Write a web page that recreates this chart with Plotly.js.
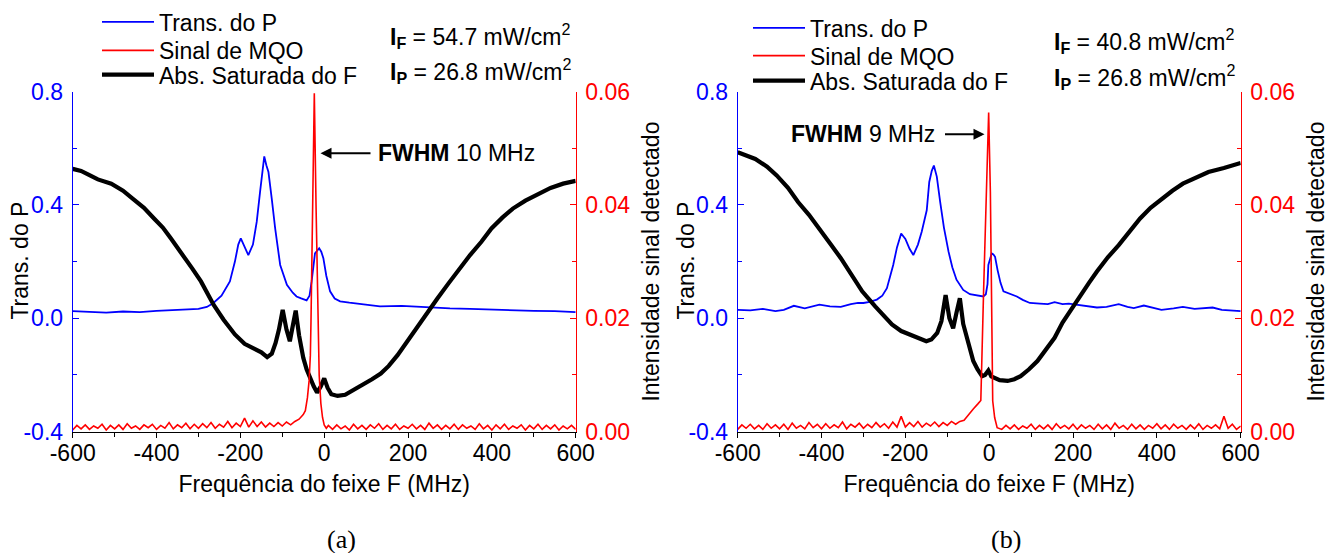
<!DOCTYPE html>
<html>
<head>
<meta charset="utf-8">
<script src="https://cdn.plot.ly/plotly-3.0.1.min.js"></script>
<style>html,body{margin:0;padding:0;background:#fff;}#chart{width:1340px;height:553px;}</style>
</head>
<body>
<div id="chart"></div>
<script>
// ---------------- Panel (a) data ----------------
const aBlueX = [-600,-560,-520,-480,-440,-400,-360,-330,-300,-280,-265,-245,-225,-213,-205,-199,-190,-181,-170,-161,-153,-148,-143,-138,-133,-125,-117,-105,-89,-75,-66,-55,-42,-35,-30,-22,-17,-12,-7,-2,5,14,25,38,60,93,133,185,245,300,348,400,450,500,550,575,600];
const aBlueY = [0.025,0.022,0.02,0.024,0.022,0.026,0.028,0.03,0.033,0.04,0.053,0.08,0.13,0.2,0.26,0.282,0.25,0.223,0.26,0.34,0.446,0.5,0.571,0.54,0.516,0.42,0.317,0.188,0.118,0.09,0.077,0.07,0.063,0.08,0.13,0.229,0.24,0.247,0.235,0.212,0.15,0.095,0.07,0.06,0.055,0.049,0.042,0.044,0.038,0.035,0.033,0.03,0.028,0.026,0.025,0.024,0.022];

const aBlackX = [-600,-580,-560,-540,-508,-480,-457,-430,-406,-385,-366,-340,-315,-294,-280,-264,-240,-213,-190,-162,-150,-136,-125,-116,-108,-99,-90,-82,-75,-68,-60,-50,-42,-34,-25,-17,-8,0,8,17,32,50,73,95,114,135,154,175,195,220,246,270,297,320,348,375,399,425,450,480,511,540,570,593,600];
const aBlackY = [0.527,0.52,0.505,0.49,0.475,0.45,0.422,0.39,0.352,0.32,0.282,0.23,0.176,0.13,0.09,0.048,-0.005,-0.057,-0.09,-0.11,-0.12,-0.137,-0.125,-0.087,-0.04,0.03,-0.04,-0.081,-0.03,0.027,-0.06,-0.139,-0.18,-0.21,-0.24,-0.262,-0.24,-0.212,-0.245,-0.268,-0.274,-0.27,-0.25,-0.235,-0.215,-0.195,-0.168,-0.13,-0.087,-0.035,0.019,0.07,0.124,0.17,0.223,0.27,0.317,0.355,0.387,0.415,0.44,0.46,0.475,0.481,0.485];

const aRedX = [
  -600,-590,-580,-570,-560,-550,-540,-530,-520,-510,
  -500,-490,-480,-470,-460,-450,-440,-430,-420,-410,
  -400,-390,-380,-370,-360,-350,-340,-330,-320,-310,
  -300,-290,-280,-270,-260,-250,-240,-230,-220,-210,
  -200,-190,-180,-170,-160,-150,-140,-130,-120,-110,
  -100,-90,-80,
  -70,-60,-50,-45,-40,-36,-33,-31.5,-27.5,-23.6,-19.5,-15.5,-12,-8,-4,0,5,
  10,20,30,40,50,60,70,80,90,100,
  110,120,130,140,150,160,170,180,190,200,
  210,220,230,240,250,260,270,280,290,300,
  310,320,330,340,350,360,370,380,390,400,
  410,420,430,440,450,460,470,480,490,500,
  510,520,530,540,550,560,570,580,590,600];
const aRedY = [
  0.0003,0.0011,0.0005,0.0012,0.0004,0.001,0.0006,0.0013,0.0003,0.0011,
  0.0005,0.0012,0.0004,0.0014,0.0006,0.001,0.0004,0.0012,0.0007,0.0013,
  0.0004,0.0011,0.0006,0.0016,0.0005,0.0012,0.0007,0.0015,0.0005,0.0013,
  0.0006,0.0014,0.0007,0.0016,0.0006,0.0013,0.0008,0.0018,0.0007,0.0015,
  0.0009,0.0024,0.0008,0.0019,0.0009,0.0017,0.0008,0.0015,0.0009,0.0016,
  0.001,0.0017,0.0012,
  0.0018,0.0022,0.003,0.0037,0.006,0.009,0.0135,0.0195,0.04,0.0597,0.04,0.0195,0.01,0.005,0.0025,0.0012,0.0006,
  0.0011,0.0004,0.0012,0.0005,0.001,0.0003,0.0013,0.0005,0.0011,0.0004,
  0.0012,0.0006,0.0014,0.0004,0.0011,0.0005,0.0013,0.0004,0.001,0.0006,
  0.0013,0.0005,0.0011,0.0004,0.0015,0.0006,0.0012,0.0004,0.0011,0.0005,
  0.0013,0.0004,0.0012,0.0006,0.001,0.0004,0.0014,0.0005,0.0011,0.0003,
  0.0012,0.0005,0.0013,0.0004,0.001,0.0006,0.0012,0.0003,0.0011,0.0005,
  0.0013,0.0004,0.0011,0.0005,0.0012,0.0003,0.001,0.0005,0.0011,0.0004];

// ---------------- Panel (b) data ----------------
const bBlueX = [-600,-570,-540,-510,-490,-466,-440,-405,-380,-354,-330,-313,-300,-285,-268,-255,-244,-235,-229,-220,-210,-200,-190,-181,-170,-161,-155,-149,-143,-137,-132,-125,-117,-108,-97,-88,-78,-62,-46,-30,-14,-8,-4,-2,2,6,10,14,20,27,34,50,66,80,97,121,140,156,175,190,207,230,257,280,309,330,345,369,390,411,440,462,490,510,533,555,575,600];
const bBlueY = [0.03,0.028,0.033,0.025,0.03,0.044,0.035,0.048,0.042,0.04,0.05,0.054,0.054,0.058,0.066,0.08,0.106,0.15,0.188,0.25,0.299,0.28,0.245,0.223,0.26,0.305,0.34,0.381,0.481,0.52,0.539,0.5,0.411,0.32,0.235,0.18,0.136,0.1,0.085,0.08,0.077,0.085,0.12,0.188,0.21,0.229,0.225,0.217,0.17,0.125,0.095,0.085,0.077,0.065,0.054,0.052,0.05,0.057,0.05,0.052,0.048,0.042,0.038,0.04,0.05,0.04,0.036,0.045,0.038,0.03,0.035,0.04,0.033,0.035,0.038,0.03,0.027,0.025];

const bBlackX = [-600,-580,-558,-530,-507,-480,-456,-430,-405,-380,-354,-333,-303,-272,-250,-232,-210,-191,-170,-150,-138,-124,-114,-104,-95,-86,-78,-70,-62,-53,-45,-38,-28,-17,-10,-2,5,13,25,44,60,75,95,115,135,156,175,197,218,238,257,283,309,335,360,385,411,437,462,492,523,560,595,600];
const bBlackY = [0.586,0.575,0.562,0.535,0.504,0.46,0.41,0.365,0.317,0.265,0.212,0.165,0.095,0.042,0.005,-0.022,-0.045,-0.057,-0.07,-0.081,-0.075,-0.052,-0.01,0.082,0.0,-0.035,0.02,0.071,-0.02,-0.069,-0.11,-0.151,-0.18,-0.204,-0.2,-0.184,-0.205,-0.21,-0.218,-0.221,-0.215,-0.204,-0.18,-0.151,-0.11,-0.069,-0.015,0.036,0.085,0.125,0.165,0.215,0.258,0.305,0.352,0.39,0.422,0.45,0.475,0.495,0.516,0.53,0.545,0.548];

const bRedX = [
  -600,-590,-580,-570,-560,-550,-540,-530,-520,-510,
  -500,-490,-480,-470,-460,-450,-440,-430,-420,-410,
  -400,-390,-380,-370,-360,-350,-340,-330,-320,-310,
  -300,-290,-280,-270,-260,-250,-240,-230,-220,-210,
  -200,-190,-180,-170,-160,-150,-140,-130,-120,-110,
  -100,-90,-80,
  -70,-60,-48,-38,-27,-20,-13.4,-7,-1.3,2.8,5,8.4,13,19,
  30,40,50,60,70,80,90,100,110,120,
  130,140,150,160,170,180,190,200,210,220,
  230,240,250,260,270,280,290,300,310,320,
  330,340,350,360,370,380,390,400,410,420,
  430,440,450,460,470,480,490,500,510,520,
  530,540,550,560,570,580,590,600];
const bRedY = [
  0.0004,0.0012,0.0006,0.0013,0.0005,0.0011,0.0004,0.0014,0.0006,0.0012,
  0.0005,0.0013,0.0004,0.0015,0.0006,0.0011,0.0005,0.0016,0.0007,0.0013,
  0.0005,0.0014,0.0006,0.0012,0.0007,0.0017,0.0005,0.0013,0.0008,0.0015,
  0.0006,0.0013,0.0007,0.0016,0.0008,0.0014,0.0006,0.0017,0.0008,0.0027,
  0.0008,0.0016,0.0009,0.0018,0.0008,0.0015,0.001,0.0017,0.0009,0.0016,
  0.0011,0.0018,0.0013,
  0.0018,0.002,0.0032,0.004,0.0049,0.0055,0.0247,0.0423,0.0563,0.0423,0.0247,0.0054,0.0025,0.0007,
  0.0004,0.0011,0.0005,0.0012,0.0004,0.001,0.0006,0.0013,0.0004,0.0011,
  0.0005,0.0012,0.0004,0.0014,0.0006,0.0011,0.0005,0.0013,0.0004,0.0012,
  0.0006,0.0011,0.0004,0.0013,0.0005,0.0012,0.0004,0.0015,0.0006,0.0011,
  0.0004,0.0013,0.0005,0.0012,0.0004,0.0011,0.0006,0.0014,0.0005,0.0012,
  0.0004,0.0013,0.0006,0.0011,0.0004,0.0012,0.0005,0.0014,0.0004,0.0011,
  0.0006,0.0012,0.0005,0.0027,0.0006,0.0013,0.0004,0.001];

// ---------------- Ticks ----------------
const xTickVals = [-600,-400,-200,0,200,400,600];
const xTickText = ["-600","-400","-200","0","200","400","600"];
const xMinorVals = [-500,-300,-100,100,300,500];
const yLeftTickVals = [-0.4,0,0.4,0.8];
const yLeftTickText = ["-0.4","0.0","0.4","0.8"];
const yLeftMinorVals = [-0.2,0.2,0.6];
const yRightTickVals = [0,0.02,0.04,0.06];
const yRightTickText = ["0.00","0.02","0.04","0.06"];
const yRightMinorVals = [0.01,0.03,0.05];

const seriesNames = ["Trans. do P","Sinal de MQO","Abs. Saturada do F"];
const leftTitle = "Trans. do P";
const rightTitle = "Intensidade sinal detectado";
const xTitle = "Frequência do feixe F (MHz)";
const BLUE = "#0000ff", RED = "#ff0000", BLACK = "#000000";

function tr(x, y, name, color, width, xa, ya, leg) {
  return {x: x, y: y, name: name, type: "scatter", mode: "lines",
          line: {color: color, width: width}, xaxis: xa, yaxis: ya,
          legend: leg, hoverinfo: "skip"};
}

const traces = [
  tr(aBlueX, aBlueY, seriesNames[0], BLUE, 1.8, "x", "y", "legend"),
  tr(aBlackX, aBlackY, seriesNames[2], BLACK, 4.2, "x", "y", "legend3"),
  tr(aRedX, aRedY, seriesNames[1], RED, 1.6, "x", "y2", "legend2"),
  tr(bBlueX, bBlueY, seriesNames[0], BLUE, 1.8, "x2", "y3", "legend4"),
  tr(bBlackX, bBlackY, seriesNames[2], BLACK, 4.2, "x2", "y3", "legend6"),
  tr(bRedX, bRedY, seriesNames[1], RED, 1.6, "x2", "y4", "legend5")
];

const FONT = "Liberation Sans, Arial, sans-serif";
const FS = 23;
const W = 1340, H = 553;
const yDom = [(H - 431) / H, (H - 89) / H];

function xAxis(dom, anchor) {
  return {domain: dom, anchor: anchor, range: [-600, 600], tickmode: "array",
    tickvals: xTickVals, ticktext: xTickText, ticks: "outside", ticklen: 5, tickwidth: 1,
    tickcolor: BLACK, showline: true, linecolor: BLACK, linewidth: 1, showgrid: false,
    zeroline: false, tickfont: {family: FONT, size: FS, color: BLACK}, ticklabelstandoff: -4,
    minor: {tickmode: "array", tickvals: xMinorVals, ticks: "outside", ticklen: 4, tickcolor: BLACK, showgrid: false},
    title: {text: xTitle, font: {family: FONT, size: FS, color: BLACK}, standoff: 10}};
}
function yLeft(anchor) {
  return {domain: yDom, anchor: anchor, range: [-0.4, 0.8], side: "left", tickmode: "array",
    tickvals: yLeftTickVals, ticktext: yLeftTickText, ticks: "inside", ticklen: 6, tickwidth: 1,
    tickcolor: BLUE, showline: true, linecolor: BLUE, linewidth: 1, showgrid: false, zeroline: false,
    tickfont: {family: FONT, size: FS, color: BLUE}, ticklabelstandoff: 4,
    minor: {tickmode: "array", tickvals: yLeftMinorVals, ticks: "inside", ticklen: 4, tickcolor: BLUE, showgrid: false}};
}
function yRight(anchor, over) {
  return {domain: yDom, anchor: anchor, overlaying: over, range: [0, 0.06], side: "right", tickmode: "array",
    tickvals: yRightTickVals, ticktext: yRightTickText, ticks: "inside", ticklen: 6, tickwidth: 1,
    tickcolor: RED, showline: true, linecolor: RED, linewidth: 1, showgrid: false, zeroline: false,
    tickfont: {family: FONT, size: FS, color: RED}, ticklabelstandoff: 4,
    minor: {tickmode: "array", tickvals: yRightMinorVals, ticks: "inside", ticklen: 4, tickcolor: RED, showgrid: false},
    title: {text: rightTitle, font: {family: FONT, size: FS, color: BLACK}, standoff: 13}};
}
function legendBox(px, py) {
  return {x: px / W, y: 1 - py / H, xanchor: "left", yanchor: "middle", bgcolor: "rgba(0,0,0,0)",
    borderwidth: 0, font: {family: FONT, size: FS, color: BLACK}, itemwidth: 52};
}
function txt(text, px, py, xanchor, size, family, angle) {
  return {text: text, xref: "paper", yref: "paper", x: px / W, y: 1 - py / H,
    xanchor: xanchor, yanchor: "middle", showarrow: false, textangle: angle || 0,
    font: {family: family || FONT, size: size || FS, color: BLACK}};
}
function arrow(tipX, tipY, tailX) {
  return {text: "", xref: "paper", yref: "paper", x: tipX / W, y: 1 - tipY / H,
    ax: tailX - tipX, ay: 0, showarrow: true, arrowhead: 2, arrowsize: 1.1, arrowwidth: 2,
    arrowcolor: BLACK};
}

const layout = {
  width: W, height: H, margin: {l: 0, r: 0, t: 0, b: 0},
  paper_bgcolor: "#fff", plot_bgcolor: "#fff",
  font: {family: FONT, size: FS, color: BLACK},
  xaxis: xAxis([72.7 / W, 575.7 / W], "y"),
  yaxis: yLeft("x"),
  yaxis2: yRight("x", "y"),
  xaxis2: xAxis([737.7 / W, 1240.7 / W], "y3"),
  yaxis3: yLeft("x2"),
  yaxis4: yRight("x2", "y3"),
  showlegend: true,
  legend: legendBox(97, 19),
  legend2: legendBox(97, 47.7),
  legend3: legendBox(97, 72),
  legend4: legendBox(748, 25),
  legend5: legendBox(748, 53),
  legend6: legendBox(748, 78),
  annotations: [
    txt(leftTitle, 20, 259, "center", FS, FONT, -90),
    txt(leftTitle, 686, 259, "center", FS, FONT, -90),
    txt("<b>I<sub>F</sub></b> = 54.7 mW/cm<sup>2</sup>", 388, 33, "left"),
    txt("<b>I<sub>P</sub></b> = 26.8 mW/cm<sup>2</sup>", 388, 68, "left"),
    txt("<b>I<sub>F</sub></b> = 40.8 mW/cm<sup>2</sup>", 1052, 38, "left"),
    txt("<b>I<sub>P</sub></b> = 26.8 mW/cm<sup>2</sup>", 1052, 74, "left"),
    txt("<b>FWHM</b> 10 MHz", 376, 151, "left"),
    arrow(320.5, 151, 372),
    txt("<b>FWHM</b> 9 MHz", 937, 132, "right"),
    arrow(984.5, 132, 943.5),
    txt("(a)", 341, 539, "center", 26, "Liberation Serif, Times New Roman, serif"),
    txt("(b)", 1006, 539, "center", 26, "Liberation Serif, Times New Roman, serif")
  ]
};

Plotly.newPlot("chart", traces, layout, {staticPlot: true, displayModeBar: false});
</script>
</body>
</html>
